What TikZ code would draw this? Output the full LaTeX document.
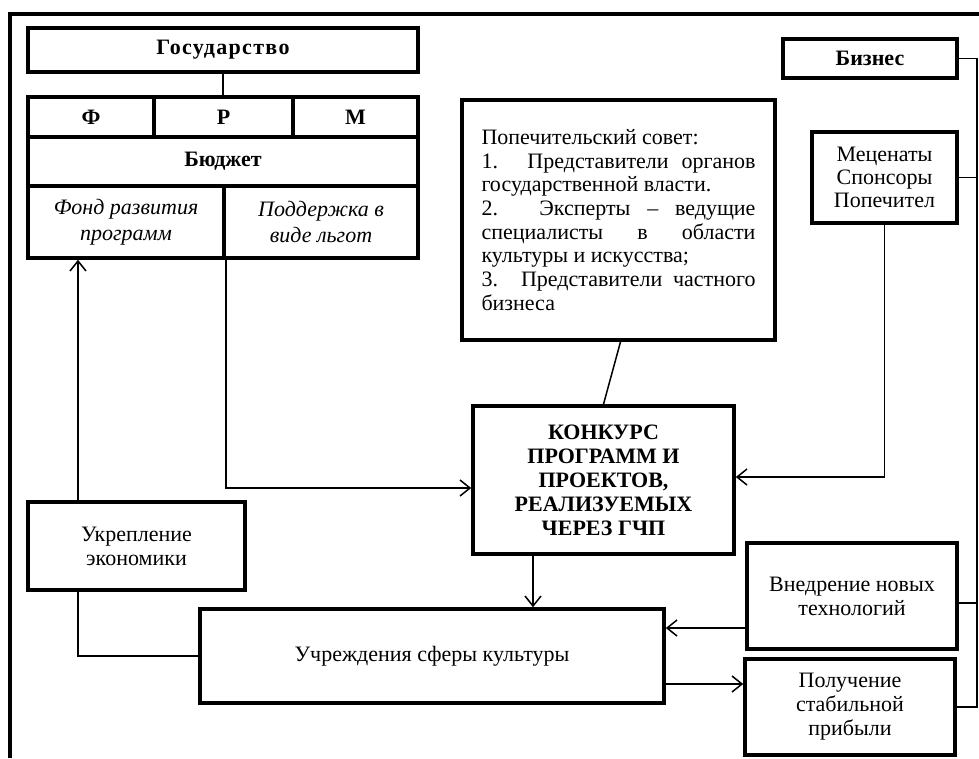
\documentclass[tikz,border=0pt]{standalone}
\usepackage{fontspec}
\setmainfont{Liberation Serif}
\usetikzlibrary{arrows.meta,calc}
\begin{document}
\begin{tikzpicture}[x=1pt,y=-1pt,
  box/.style={draw, line width=3.6pt, inner sep=0pt, align=center,
    font=\fontsize{22}{24}\selectfont},
  bbox/.style={box, font=\fontsize{22}{24}\selectfont\bfseries},
  cell/.style={draw, line width=3.6pt, inner sep=0pt, align=center,
    font=\fontsize{22}{24}\selectfont\bfseries},
  icell/.style={cell, font=\fontsize{22}{26.5}\selectfont\itshape},
  conn/.style={line width=1.5pt},
  arr/.style={conn, -{Straight Barb[length=10pt,width=16pt,line width=1.5pt]}},
  frame/.style={line width=4pt}
]
\useasboundingbox (0,0) rectangle (979,758);
% outer frame (clipped in the reference)
\draw[frame] (10,758) -- (10,14) -- (979,14);

% state side
\node[bbox, minimum width=390, minimum height=44, font=\fontsize{22}{24}\selectfont\bfseries\addfontfeature{LetterSpace=6}] (gos) at (223,50) {Государство};
\node[cell, minimum width=126, minimum height=40] (F) at (91,117) {Ф};
\node[cell, minimum width=139, minimum height=40] (R) at (223.5,117) {Р};
\node[cell, minimum width=125, minimum height=40] (M) at (355.5,117) {М};
\node[cell, minimum width=390, minimum height=49] (budget) at (223,161.5) {Бюджет};
\node[icell, minimum width=196, minimum height=72] (fond) at (126,222) {Фонд развития\\программ};
\node[icell, minimum width=194, minimum height=72] (podd) at (321,222) {Поддержка в\\виде льгот};

% trustees
\node[draw, line width=3.6pt, minimum width=313, minimum height=240, text width=274pt,
  align=justify, inner sep=0pt, font=\fontsize{22}{23.7}\selectfont] (popech) at (618.5,220)
  {\hyphenpenalty=10000 Попечительский совет:\par
   1. Представители органов\linebreak государственной власти.\par
   2. Эксперты – ведущие\linebreak специалисты в области\linebreak культуры и искусства;\par
   3. Представители частного\linebreak бизнеса};

% business side
\node[bbox, minimum width=174, minimum height=39] (biz) at (870,58.5) {Бизнес};
\node[box, minimum width=145, minimum height=91, font=\fontsize{22}{23}\selectfont] (mecen) at (884.5,177.5) {Меценаты\\Спонсоры\\Попечител};

% centre
\node[bbox, minimum width=261, minimum height=148] (konk) at (603.5,480)
  {КОНКУРС\\ПРОГРАММ И\\ПРОЕКТОВ,\\РЕАЛИЗУЕМЫХ\\ЧЕРЕЗ ГЧП};
\node[box, minimum width=217, minimum height=88] (ukr) at (136.5,546) {Укрепление\\экономики};
\node[box, minimum width=464, minimum height=94] (uchr) at (432,656) {Учреждения сферы культуры};
\node[box, minimum width=210, minimum height=106] (vnedr) at (852,596) {Внедрение новых\\технологий};
\node[box, minimum width=210, minimum height=96] (poluch) at (850,707) {Получение\\стабильной\\прибыли};

\coordinate (rail) at (977,0);
\coordinate (kin) at (0,488);
\coordinate (min) at (0,477);
\coordinate (kdown) at (533,0);
\coordinate (ukrx) at (78,0);
\coordinate (vy) at (0,628);
\coordinate (uy) at (0,684);
\coordinate (vry) at (0,603);

% connectors
\draw[conn] (gos.south) -- (gos.south |- R.north);
\draw[arr] (ukrx |- ukr.north) -- (ukrx |- fond.south);
\draw[conn] (ukrx |- ukr.south) |- (uchr.west);
\draw[arr] (fond.south east) |- (konk.west |- kin);
\draw[arr] (mecen.south) |- (konk.east |- min);
\draw[conn] ([xshift=2pt]popech.south) -- (konk.north);
\draw[arr] (kdown |- konk.south) -- (kdown |- uchr.north);
\draw[arr] (vnedr.west |- vy) -- (uchr.east |- vy);
\draw[arr] (uchr.east |- uy) -- (poluch.west |- uy);
\draw[conn] (biz.east) -| (rail |- poluch.east) -- (poluch.east);
\draw[conn] (mecen.east) -- (rail |- mecen.east);
\draw[conn] (vnedr.east |- vry) -- (rail |- vry);
\end{tikzpicture}
\end{document}
